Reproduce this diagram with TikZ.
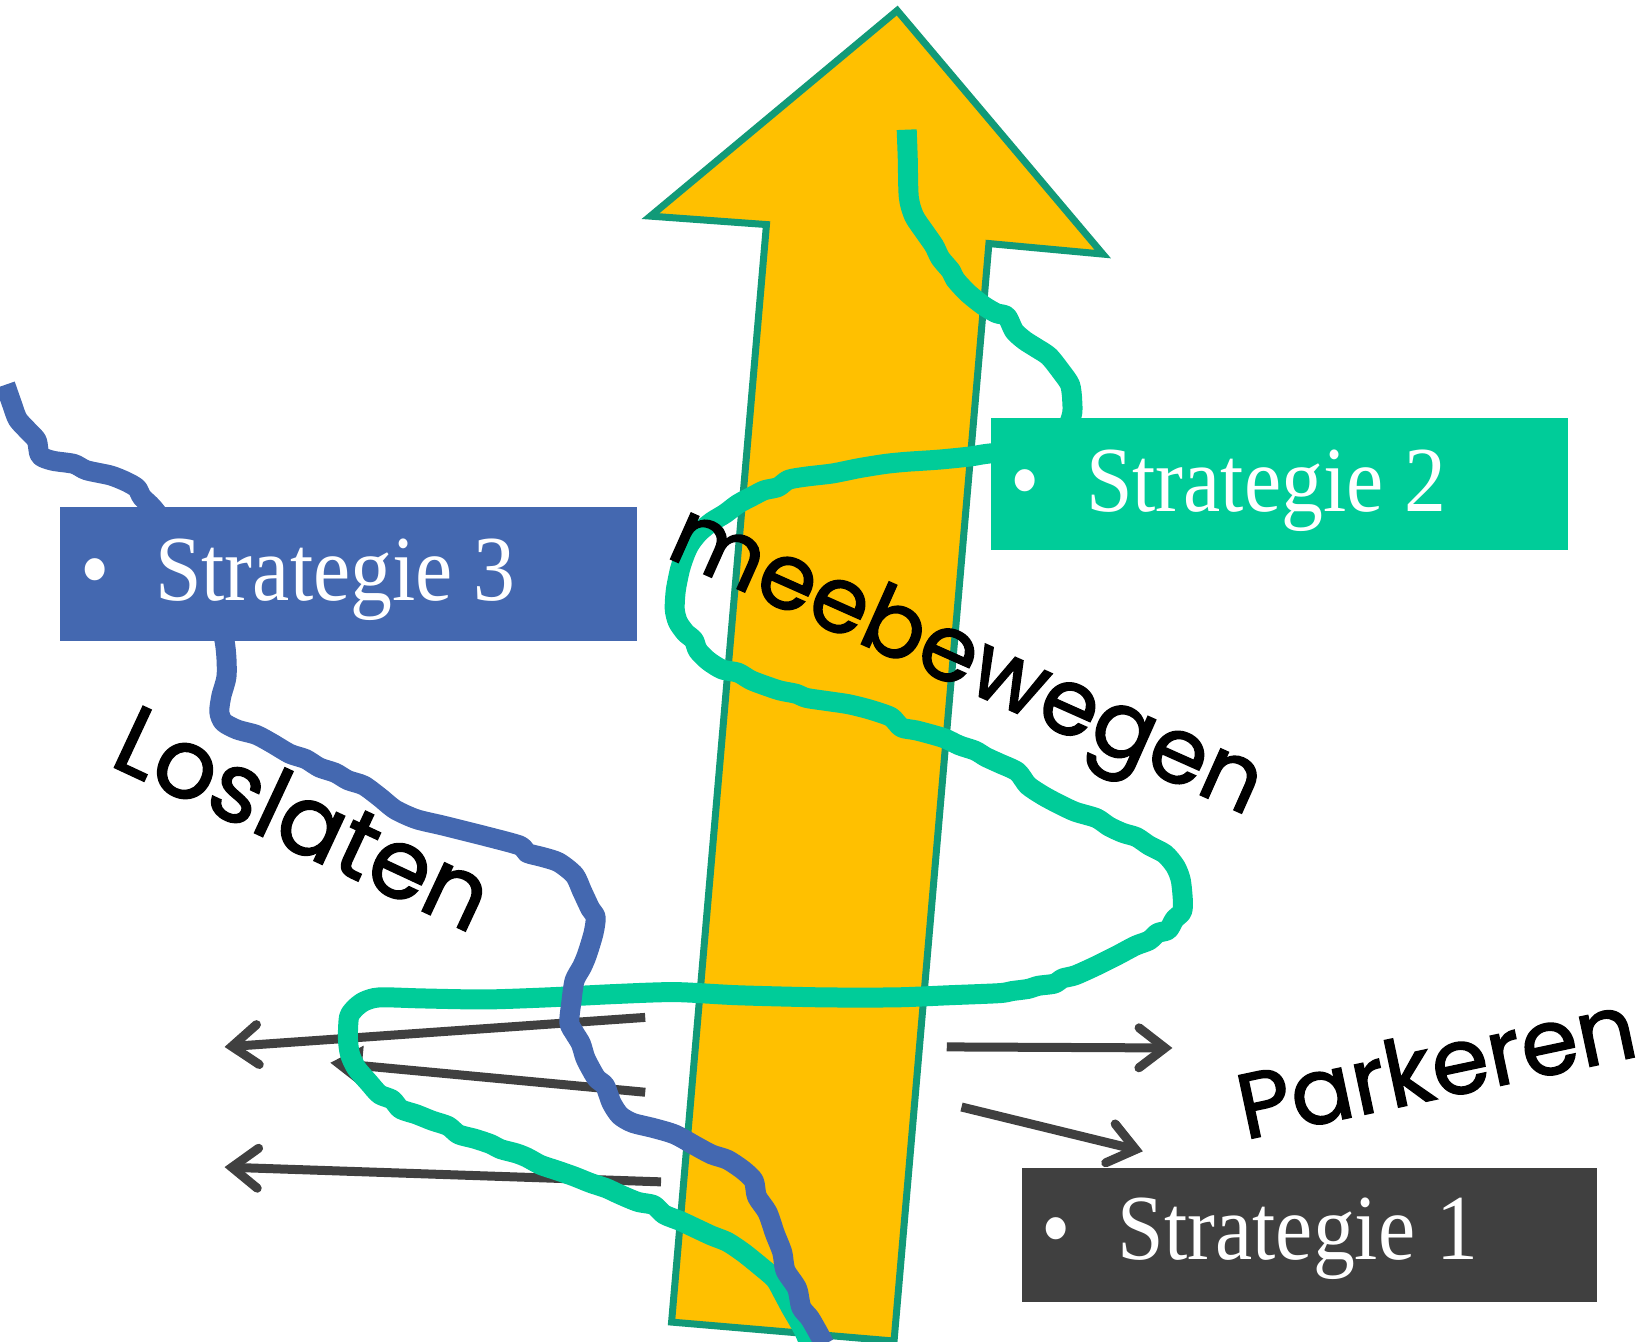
\documentclass[tikz,border=0pt]{standalone}
\usepackage{fontspec}
\setmainfont{Liberation Serif}
\newfontfamily\hand{Poppins}[FakeBold=1.6]
\usetikzlibrary{arrows.meta,fit}
\definecolor{arrfill}{HTML}{FFC000}
\definecolor{arredge}{HTML}{119A78}
\definecolor{grn}{HTML}{00CC99}
\definecolor{blu}{HTML}{4468B0}
\definecolor{drk}{HTML}{404040}
\begin{document}
\begin{tikzpicture}[x=1.0543pt,y=-1.0543pt,
  wig/.style={line width=20pt, line join=round, line cap=butt},
  garrow/.style={drk, line width=9pt, -{Straight Barb[length=26pt,width=40pt,line cap=round]}},
  gtri/.style={drk, line width=9pt, -{Triangle[length=32pt,width=38pt]}},
  sbox/.style={draw=none, inner sep=0pt, outer sep=0pt},
  stext/.style={text=white, anchor=base west, inner sep=0pt, font=\fontsize{93}{100}\selectfont},
  sbul/.style={text=white, anchor=base, inner sep=0pt, font=\fontsize{93}{100}\selectfont},
  hw/.style={font=\hand\fontsize{92}{100}\selectfont, inner sep=0pt, text=black}]
\useasboundingbox (0,0) rectangle (1566,1272);
% big arrow
\draw[fill=arrfill, draw=arredge, line width=7pt, line join=miter]
  (851,10) -- (1046,241) -- (938,231) -- (848,1272) -- (637,1254) -- (727,213) -- (617,205) -- cycle;
% grey arrows
\coordinate (a1s) at (612,965); \coordinate (a1e) at (213,993);
\coordinate (a2s) at (612,1036); \coordinate (a2e) at (313,1008);
\coordinate (a3s) at (627,1121); \coordinate (a3e) at (213,1107);
\coordinate (a4s) at (898,993); \coordinate (a4e) at (1112,994);
\coordinate (a5s) at (912,1050); \coordinate (a5e) at (1084,1092);
\draw[garrow] (a1s) -- (a1e);
\draw[gtri] (a2s) -- (a2e);
\draw[garrow] (a3s) -- (a3e);
\draw[garrow] (a4s) -- (a4e);
\draw[garrow] (a5s) -- (a5e);
% green wiggle
\draw[wig, grn] plot[smooth, tension=0.45] coordinates {
(860,123) (861,150) (862,187) (867,205) (877,220) (886,233) (892,245) (902,257) (906,265) (918,278) (933,290) (945,297) (955,300) (962,314) (972,323) (983,330) (995,338) (1007,353) (1015,365) (1017,380) (1016,396) (1000,425) (940,430)
(920,433) (890,436) (860,438) (840,440) (815,444) (790,449) (765,452) (748,455) (738,462) (725,465) (715,470) (700,478) (688,487) (675,495) (663,505) (655,515) (650,525) (645,540) (641,560) (640,578) (643,590) (650,600) (658,607) (662,617) (672,627) (685,635) (700,638) (712,645) (725,650) (740,655) (755,658) (765,662) (785,665) (805,668) (825,673) (845,680) (855,690) (870,693) (895,700) (910,707) (925,712) (935,718) (948,724) (965,732) (975,745) (990,755) (1005,763) (1020,770) (1040,776) (1052,784) (1065,790) (1078,794) (1090,802) (1105,810) (1115,822) (1120,835) (1122,855) (1121,865) (1114,872) (1108,882) (1098,885) (1090,892) (1077,897) (1060,906) (1040,916) (1020,925) (1008,928) (1000,933) (985,935) (975,938) (960,940) (948,942) (900,944) (850,946) (780,946) (700,944) (640,941) (580,943) (520,946) (460,948) (400,947) (360,946) (345,950) (336,957) (331,965) (330,985) (332,1000) (338,1013) (350,1027) (360,1038) (372,1043) (380,1052) (395,1057) (410,1063) (425,1068) (435,1076) (450,1080) (465,1085) (475,1090) (490,1094) (500,1098) (513,1105) (528,1110) (545,1116) (560,1122) (575,1127) (588,1133) (605,1140) (620,1143) (630,1152) (645,1158) (660,1165) (675,1172) (690,1178) (705,1188) (720,1200) (735,1213) (742,1225) (750,1240) (757,1252) (763,1263) (768,1275)};
% blue wiggle
\draw[wig, blu] plot[smooth, tension=0.45] coordinates {
(5,365) (12,385) (17,398) (28,410) (35,418) (38,432) (50,437) (70,440) (82,446) (105,451) (120,457) (130,463) (135,472) (150,488) (200,560) (213,608) (215,640) (210,660) (208,675) (212,685) (225,692) (243,697) (258,705) (275,715) (290,720) (303,728) (318,733) (330,740) (345,745) (360,756) (375,768) (395,777) (420,783) (460,793) (493,802) (500,809) (515,813) (530,818) (545,830) (552,845) (560,862) (565,870) (563,885) (557,905) (552,917) (545,930) (542,950) (540,970) (545,980) (551,990) (555,1003) (560,1013) (566,1023) (574,1030) (580,1046) (588,1058) (600,1065) (620,1070) (640,1076) (660,1087) (675,1095) (690,1100) (705,1110) (715,1120) (718,1135) (728,1150) (735,1170) (742,1188) (745,1205) (756,1222) (760,1240) (768,1250) (775,1262) (782,1275)};
% boxes
\node[sbox, fill=blu, fit={(57,481) (604,608)}] (s3) {};
\node[sbox, fill=grn, fit={(940,396) (1487,522)}] (s2) {};
\node[sbox, fill=drk, fit={(969,1108) (1515,1235)}] (s1) {};
\node[sbul] (b3) at (90,570) {\scalebox{0.9}[1]{\textbullet}};
\node[stext] (t3) at (147,570) {\scalebox{0.9}[1]{Strategie 3}};
\node[sbul] (b2) at (972,485) {\scalebox{0.9}[1]{\textbullet}};
\node[stext] (t2) at (1030,485) {\scalebox{0.9}[1]{Strategie 2}};
\node[sbul] (b1) at (1002,1195) {\scalebox{0.9}[1]{\textbullet}};
\node[stext] (t1) at (1060,1195) {\scalebox{0.9}[1]{Strategie 1}};
% handwritten labels
\node[hw, rotate=-25, font=\hand\fontsize{97}{100}\selectfont] (los) at (289,775) {Loslaten};
\node[hw, rotate=-24] (mee) at (915,632) {meebewegen};
\node[hw, rotate=12] (park) at (1362,1010) {Parkeren};
\end{tikzpicture}
\end{document}
